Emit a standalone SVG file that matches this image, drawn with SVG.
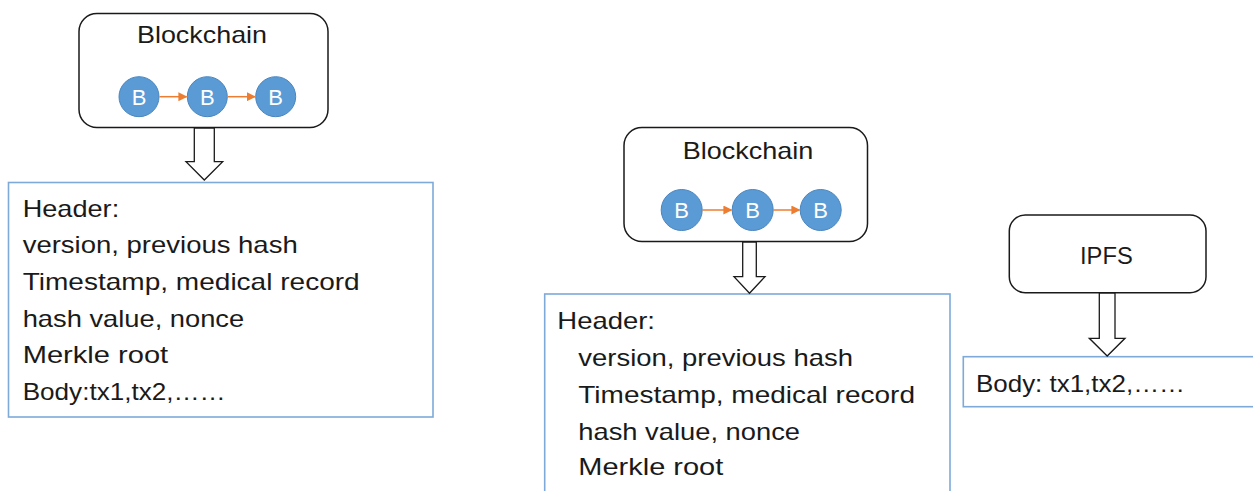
<svg xmlns="http://www.w3.org/2000/svg" width="1253" height="491" viewBox="0 0 1253 491">
<style>
  .rbox{fill:#fff;stroke:#1a1a1a;stroke-width:1.5}
  .tbox{fill:#fff;stroke:#7ea9d9;stroke-width:1.6}
  .t{font-family:"Liberation Sans",Arial,sans-serif;font-size:24px;fill:#1a1a1a}
  .blk{fill:#5b9bd5;stroke:#4a86bf;stroke-width:1}
  .bt{font-family:"Liberation Sans",Arial,sans-serif;font-size:22px;fill:#fff;text-anchor:middle}
  .oa{stroke:#ed7d31;stroke-width:1.5;fill:none;marker-end:url(#oh)}
  .ba{fill:#fff;stroke:#1a1a1a;stroke-width:1.3;stroke-linejoin:miter}
</style>
<defs>
  <marker id="oh" viewBox="0 0 10 10" refX="9" refY="5" markerWidth="6" markerHeight="6" orient="auto" markerUnits="strokeWidth">
    <path d="M0,0 L10,5 L0,10 z" fill="#ed7d31"/>
  </marker>
</defs>
<rect width="1253" height="491" fill="#fff"/>

<g id="blockchain-left">
  <rect class="rbox" x="79" y="13.5" width="249" height="114" rx="18"/>
  <text class="t" x="137" y="43.3" textLength="130" lengthAdjust="spacingAndGlyphs">Blockchain</text>
  <circle class="blk" cx="139" cy="96.7" r="20"/>
  <text class="bt" x="139" y="104.7">B</text>
  <circle class="blk" cx="207.3" cy="96.7" r="20"/>
  <text class="bt" x="207.3" y="104.7">B</text>
  <circle class="blk" cx="275.7" cy="96.7" r="20"/>
  <text class="bt" x="275.7" y="104.7">B</text>
</g>

<g id="block-left">
  <rect class="tbox" x="8.5" y="182.5" width="424.5" height="234.5"/>
  <text class="t" x="22.7" y="216.7" textLength="96.5" lengthAdjust="spacingAndGlyphs">Header:</text>
  <text class="t" x="22.7" y="252.8" textLength="275" lengthAdjust="spacingAndGlyphs">version, previous hash</text>
  <text class="t" x="22.7" y="289.8" textLength="337" lengthAdjust="spacingAndGlyphs">Timestamp, medical record</text>
  <text class="t" x="22.7" y="326.5" textLength="221.5" lengthAdjust="spacingAndGlyphs">hash value, nonce</text>
  <text class="t" x="22.7" y="363" textLength="145.5" lengthAdjust="spacingAndGlyphs">Merkle root</text>
  <text class="t" x="22.7" y="399.8" textLength="203" lengthAdjust="spacingAndGlyphs">Body:tx1,tx2,……</text>
</g>

<g id="blockchain-right">
  <rect class="rbox" x="624" y="127.5" width="243.5" height="114" rx="18"/>
  <text class="t" x="682.7" y="159.3" textLength="130.6" lengthAdjust="spacingAndGlyphs">Blockchain</text>
  <circle class="blk" cx="681.7" cy="210" r="20.5"/>
  <text class="bt" x="681.7" y="218">B</text>
  <circle class="blk" cx="752.7" cy="210" r="20.5"/>
  <text class="bt" x="752.7" y="218">B</text>
  <circle class="blk" cx="820.7" cy="210" r="20.5"/>
  <text class="bt" x="820.7" y="218">B</text>
</g>

<g id="block-right">
  <rect class="tbox" x="544.7" y="294" width="405.3" height="210"/>
  <text class="t" x="557.3" y="329.3" textLength="97.7" lengthAdjust="spacingAndGlyphs">Header:</text>
  <text class="t" x="578.3" y="366" textLength="274.7" lengthAdjust="spacingAndGlyphs">version, previous hash</text>
  <text class="t" x="578.3" y="403.3" textLength="336.7" lengthAdjust="spacingAndGlyphs">Timestamp, medical record</text>
  <text class="t" x="578.3" y="440" textLength="221.7" lengthAdjust="spacingAndGlyphs">hash value, nonce</text>
  <text class="t" x="578.3" y="475" textLength="145" lengthAdjust="spacingAndGlyphs">Merkle root</text>
</g>

<g id="ipfs">
  <rect class="rbox" x="1009.3" y="215" width="196.7" height="77.7" rx="16"/>
  <text class="t" x="1080" y="264.3" textLength="52.7" lengthAdjust="spacingAndGlyphs">IPFS</text>
</g>

<g id="body-right">
  <rect class="tbox" x="963.3" y="356.7" width="300" height="50"/>
  <text class="t" x="976" y="391.7" textLength="209" lengthAdjust="spacingAndGlyphs">Body: tx1,tx2,……</text>
</g>

<g id="connectors">
  <line class="oa" x1="159.5" y1="96.7" x2="186.5" y2="96.7"/>
  <line class="oa" x1="227.8" y1="96.7" x2="255" y2="96.7"/>
  <line class="oa" x1="702.5" y1="210" x2="731.5" y2="210"/>
  <line class="oa" x1="773.5" y1="210" x2="799.5" y2="210"/>
  <polygon class="ba" points="194.3,128 214.3,128 214.3,161.7 222.7,161.7 204.3,180 186,161.7 194.3,161.7"/>
  <polygon class="ba" points="742.7,242 756.3,242 756.3,276.7 765,276.7 749.5,293.3 734,276.7 742.7,276.7"/>
  <polygon class="ba" points="1099.3,293 1115,293 1115,338.3 1125,338.3 1107.2,356 1089.3,338.3 1099.3,338.3"/>
</g>
</svg>
